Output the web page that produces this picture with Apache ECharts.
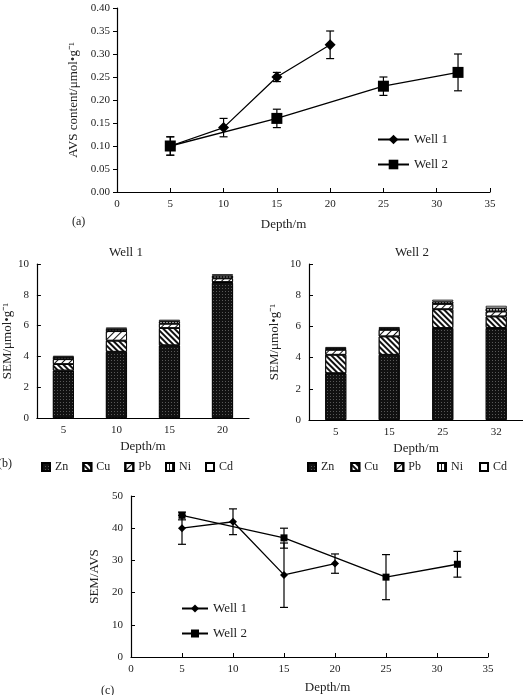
<!DOCTYPE html>
<html>
<head>
<meta charset="utf-8">
<script src="https://cdn.jsdelivr.net/npm/echarts@6/dist/echarts.min.js"></script>
<style>
html, body { margin: 0; padding: 0; background: #fff; }
#main { width: 523px; height: 695px; }
</style>
</head>
<body>
<div id="main"></div>
<script>
// (a) AVS content
const avsDepth1 = [5, 10, 15, 20];
const avsWell1 = [0.10, 0.14, 0.25, 0.32];
const avsWell1Lo = [0.08, 0.12, 0.24, 0.29];
const avsWell1Hi = [0.12, 0.16, 0.26, 0.35];
const avsDepth2 = [5, 15, 25, 32];
const avsWell2 = [0.10, 0.16, 0.23, 0.26];
const avsWell2Lo = [0.08, 0.14, 0.21, 0.22];
const avsWell2Hi = [0.12, 0.18, 0.25, 0.30];

// (b) SEM, stacked
const metals = ['Zn', 'Cu', 'Pb', 'Ni', 'Cd'];
const semDepth1 = ['5', '10', '15', '20'];
const w1Zn = [3.08, 4.30, 4.72, 8.78];
const w1Cu = [0.42, 0.72, 1.12, 0.05];
const w1Pb = [0.32, 0.62, 0.28, 0.24];
const w1Ni = [0.14, 0.14, 0.16, 0.17];
const w1Cd = [0.08, 0.10, 0.10, 0.10];
const semDepth2 = ['5', '15', '25', '32'];
const w2Zn = [3.00, 4.18, 5.90, 5.90];
const w2Cu = [1.18, 1.18, 1.20, 0.74];
const w2Pb = [0.32, 0.42, 0.34, 0.32];
const w2Ni = [0.10, 0.10, 0.15, 0.20];
const w2Cd = [0.08, 0.08, 0.12, 0.16];

// (c) SEM/AVS
const ratioDepth1 = [5, 10, 15, 20];
const ratioWell1 = [40, 42, 25.5, 29];
const ratioWell1Lo = [35, 38, 15.4, 26];
const ratioWell1Hi = [44, 46, 35.4, 32];
const ratioDepth2 = [5, 15, 25, 32];
const ratioWell2 = [44, 37, 24.8, 28.8];
const ratioWell2Lo = [42.6, 33.8, 17.8, 24.8];
const ratioWell2Hi = [45, 40, 31.8, 32.8];

const font = 'Liberation Serif';
const ink = '#222';

const metalStyle = {
    Zn: { color: '#111', decal: { symbol: 'rect', color: 'rgba(255,255,255,0.3)', dashArrayX: [1, 2], dashArrayY: [1, 2], symbolSize: 1 } },
    Cu: { color: '#fff', decal: { symbol: 'rect', color: '#111', dashArrayX: [1, 0], dashArrayY: [1.2, 2], rotation: Math.PI / 4 } },
    Pb: { color: '#fff', decal: { symbol: 'rect', color: '#111', dashArrayX: [1, 0], dashArrayY: [1, 3.5], rotation: -Math.PI / 4 } },
    Ni: { color: '#fff', decal: { symbol: 'rect', color: '#111', dashArrayX: [1, 1.5], dashArrayY: [1, 0] } },
    Cd: { color: '#fff' }
};

function errRender(params, api) {
    const x = api.value(0);
    const lo = api.coord([x, api.value(1)]);
    const hi = api.coord([x, api.value(2)]);
    const w = 4;
    const st = { stroke: '#000', lineWidth: 1.2 };
    return {
        type: 'group',
        children: [
            { type: 'line', shape: { x1: lo[0], y1: lo[1], x2: hi[0], y2: hi[1] }, style: st },
            { type: 'line', shape: { x1: lo[0] - w, y1: lo[1], x2: lo[0] + w, y2: lo[1] }, style: st },
            { type: 'line', shape: { x1: hi[0] - w, y1: hi[1], x2: hi[0] + w, y2: hi[1] }, style: st }
        ]
    };
}

function errSeries(name, idx, depths, lo, hi) {
    return {
        name: name,
        type: 'custom',
        xAxisIndex: idx,
        yAxisIndex: idx,
        renderItem: errRender,
        encode: { x: 0, y: [1, 2] },
        data: depths.map((d, i) => [d, lo[i], hi[i]]),
        z: 1,
        silent: true
    };
}

function lineSeries(name, idx, depths, vals, symbol, size) {
    return {
        name: name,
        type: 'line',
        xAxisIndex: idx,
        yAxisIndex: idx,
        data: depths.map((d, i) => [d, vals[i]]),
        symbol: symbol,
        symbolSize: size,
        showSymbol: true,
        lineStyle: { color: '#000', width: 1.3 },
        itemStyle: { color: '#000' },
        z: 3,
        animation: false
    };
}

function barSeries(idx, stack, lists) {
    return metals.map((m, k) => ({
        name: m,
        type: 'bar',
        stack: stack,
        xAxisIndex: idx,
        yAxisIndex: idx,
        barWidth: 21,
        data: lists[k],
        itemStyle: Object.assign({ borderColor: '#000', borderWidth: 0.8 }, metalStyle[m]),
        animation: false
    }));
}

const axisLine = { show: true, lineStyle: { color: '#000', width: 1.2 } };
const labelStyle = { color: ink, fontFamily: font, fontSize: 11 };
const nameStyle = { color: ink, fontFamily: font, fontSize: 13 };

const chart = echarts.init(document.getElementById('main'));

const option = {
    backgroundColor: '#fff',
    animation: false,
    textStyle: { fontFamily: font },
    grid: [
        { left: 117, top: 8, width: 373, height: 184 },
        { left: 33, top: 264, width: 216, height: 154 },
        { left: 309, top: 264, width: 216, height: 156 },
        { left: 131, top: 496, width: 357, height: 168 }
    ],
    xAxis: [
        {
            gridIndex: 0, type: 'value', min: 0, max: 35, interval: 5,
            name: 'Depth/m', nameLocation: 'middle', nameGap: 26,
            nameTextStyle: Object.assign({ padding: [0, 40, 0, 0] }, nameStyle),
            axisLine: axisLine, axisTick: { inside: true, length: 4, lineStyle: { color: '#000' } },
            axisLabel: Object.assign({ margin: 7 }, labelStyle), splitLine: { show: false }
        },
        {
            gridIndex: 1, type: 'category', data: semDepth1,
            name: 'Depth/m', nameLocation: 'middle', nameGap: 22, nameTextStyle: nameStyle,
            axisLine: axisLine, axisTick: { inside: true, length: 5, lineStyle: { color: '#000' } },
            axisLabel: Object.assign({ margin: 7 }, labelStyle)
        },
        {
            gridIndex: 2, type: 'category', data: semDepth2,
            name: 'Depth/m', nameLocation: 'middle', nameGap: 22, nameTextStyle: nameStyle,
            axisLine: axisLine, axisTick: { inside: true, length: 5, lineStyle: { color: '#000' } },
            axisLabel: Object.assign({ margin: 7 }, labelStyle)
        },
        {
            gridIndex: 3, type: 'value', min: 0, max: 35, interval: 5,
            name: 'Depth/m', nameLocation: 'middle', nameGap: 24,
            nameTextStyle: Object.assign({ padding: [0, 0, 0, 36] }, nameStyle),
            axisLine: axisLine, axisTick: { inside: true, length: 4, lineStyle: { color: '#000' } },
            axisLabel: Object.assign({ margin: 7 }, labelStyle), splitLine: { show: false }
        }
    ],
    yAxis: [
        {
            gridIndex: 0, type: 'value', min: 0, max: 0.4, interval: 0.05,
            name: 'AVS content/μmol•g⁻¹', nameLocation: 'middle', nameGap: 37, nameTextStyle: nameStyle,
            axisLine: axisLine, axisTick: { show: true, inside: false, length: 4, lineStyle: { color: '#000' } },
            axisLabel: Object.assign({ margin: 7, formatter: v => v.toFixed(2) }, labelStyle),
            splitLine: { show: false }
        },
        {
            gridIndex: 1, type: 'value', min: 0, max: 10, interval: 2,
            name: 'SEM/μmol•g⁻¹', nameLocation: 'middle', nameGap: 21, nameTextStyle: nameStyle,
            axisLine: axisLine, axisTick: { show: true, inside: true, length: 4, lineStyle: { color: '#000' } },
            axisLabel: Object.assign({ margin: 8 }, labelStyle), splitLine: { show: false }
        },
        {
            gridIndex: 2, type: 'value', min: 0, max: 10, interval: 2,
            name: 'SEM/μmol•g⁻¹', nameLocation: 'middle', nameGap: 28, nameTextStyle: nameStyle,
            axisLine: axisLine, axisTick: { show: true, inside: true, length: 4, lineStyle: { color: '#000' } },
            axisLabel: Object.assign({ margin: 8 }, labelStyle), splitLine: { show: false }
        },
        {
            gridIndex: 3, type: 'value', min: 0, max: 50, interval: 10,
            name: 'SEM/AVS', nameLocation: 'middle', nameGap: 24, nameTextStyle: nameStyle,
            axisLine: axisLine, axisTick: { show: true, inside: true, length: 4, lineStyle: { color: '#000' } },
            axisLabel: Object.assign({ margin: 8 }, labelStyle), splitLine: { show: false }
        }
    ],
    legend: [
        {
            data: ['Well 1', 'Well 2'], orient: 'vertical', left: 377, top: 133, padding: 0,
            itemWidth: 31, itemHeight: 12, itemGap: 12,
            textStyle: { color: ink, fontFamily: font, fontSize: 13 }
        },
        {
            data: metals, icon: 'rect', left: 41, top: 461, padding: 0, width: 220,
            itemWidth: 8, itemHeight: 8, itemGap: 14,
            textStyle: { color: ink, fontFamily: font, fontSize: 12 }
        },
        {
            data: metals, icon: 'rect', left: 307, top: 461, padding: 0, width: 215,
            itemWidth: 8, itemHeight: 8, itemGap: 16,
            textStyle: { color: ink, fontFamily: font, fontSize: 12 }
        },
        {
            data: ['Well 1 ', 'Well 2 '], orient: 'vertical', left: 181, top: 602, padding: 0,
            itemWidth: 26, itemHeight: 10, itemGap: 12,
            textStyle: { color: ink, fontFamily: font, fontSize: 13 }
        }
    ],
    graphic: [
        { type: 'text', left: 72, top: 216, style: { text: '(a)', font: '12px "Liberation Serif"', fill: ink } },
        { type: 'text', left: -2, top: 458, style: { text: '(b)', font: '12px "Liberation Serif"', fill: ink } },
        { type: 'text', left: 101, top: 685, style: { text: '(c)', font: '12px "Liberation Serif"', fill: ink } },
        { type: 'text', left: 109, top: 246, style: { text: 'Well 1', font: '13px "Liberation Serif"', fill: ink } },
        { type: 'text', left: 395, top: 246, style: { text: 'Well 2', font: '13px "Liberation Serif"', fill: ink } }
    ],
    series: [
        errSeries('errA1', 0, avsDepth1, avsWell1Lo, avsWell1Hi),
        errSeries('errA2', 0, avsDepth2, avsWell2Lo, avsWell2Hi),
        lineSeries('Well 1', 0, avsDepth1, avsWell1, 'diamond', 11),
        lineSeries('Well 2', 0, avsDepth2, avsWell2, 'rect', 11),
        ...barSeries(1, 'w1', [w1Zn, w1Cu, w1Pb, w1Ni, w1Cd]),
        ...barSeries(2, 'w2', [w2Zn, w2Cu, w2Pb, w2Ni, w2Cd]),
        errSeries('errC1', 3, ratioDepth1, ratioWell1Lo, ratioWell1Hi),
        errSeries('errC2', 3, ratioDepth2, ratioWell2Lo, ratioWell2Hi),
        lineSeries('Well 1 ', 3, ratioDepth1, ratioWell1, 'diamond', 8),
        lineSeries('Well 2 ', 3, ratioDepth2, ratioWell2, 'rect', 7)
    ]
};

chart.setOption(option);
</script>
</body>
</html>
